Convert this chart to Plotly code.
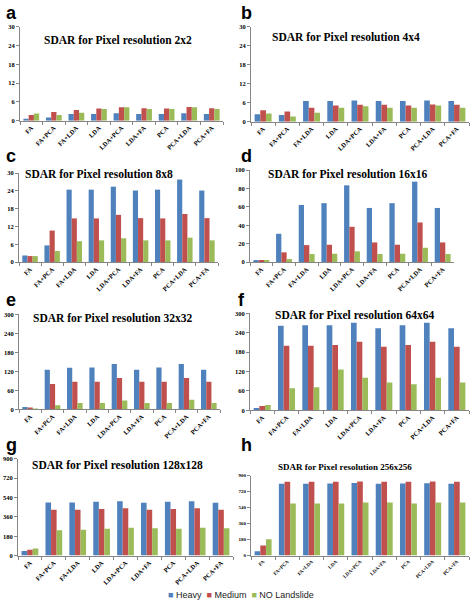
import plotly.graph_objects as go

W, H = 472, 611

categories = ["FA", "FA+PCA", "FA+LDA", "LDA", "LDA+PCA", "LDA+FA", "PCA", "PCA+LDA", "PCA+FA"]
series_names = ["Heavy", "Medium", "NO Landslide"]
colors = ["#4F81BD", "#C0504D", "#9BBB59"]

# panel a: 2x2
a_heavy = [0.5, 1.0, 2.1, 2.1, 2.4, 2.1, 2.1, 2.4, 2.1]
a_medium = [1.8, 2.8, 3.4, 3.9, 4.3, 4.0, 3.9, 4.4, 4.0]
a_noland = [2.3, 1.8, 2.5, 3.7, 4.3, 3.7, 3.7, 4.3, 3.7]
# panel b: 4x4
b_heavy = [2.3, 2.1, 6.5, 6.5, 6.7, 6.5, 6.5, 6.7, 6.5]
b_medium = [3.6, 3.2, 4.4, 5.1, 5.3, 5.3, 5.1, 5.4, 5.3]
b_noland = [2.6, 1.6, 2.8, 4.4, 4.9, 4.4, 4.4, 5.1, 4.4]
# panel c: 8x8
c_heavy = [2.2, 5.6, 24.4, 24.4, 25.4, 24.1, 24.4, 27.8, 24.1]
c_medium = [2.0, 10.6, 14.7, 14.7, 15.9, 14.8, 14.7, 16.2, 14.8]
c_noland = [2.0, 3.7, 7.0, 7.3, 8.0, 7.3, 7.3, 8.2, 7.3]
# panel d: 16x16
d_heavy = [1.4, 30.7, 62, 64, 83.4, 58.8, 64, 87.4, 58.8]
d_medium = [2.2, 10.5, 18.4, 18.8, 38.3, 21.3, 18.8, 43, 21.3]
d_noland = [2.2, 3.2, 8.7, 9.0, 11.6, 8.7, 9.0, 15.5, 8.7]
# panel e: 32x32
e_heavy = [7, 125, 131, 132, 143, 125, 132, 143, 125]
e_medium = [4, 80, 87, 87, 99, 87, 87, 99, 87]
e_noland = [2, 12.5, 20, 20, 28, 20, 20, 30, 20]
# panel f: 64x64
f_heavy = [7, 262, 263, 263, 271, 254, 263, 271, 254]
f_medium = [13, 200, 200, 202, 212, 197, 202, 212, 197]
f_noland = [16, 68, 71, 126, 101, 86, 81, 101, 86]
# panel g: 128x128
g_heavy = [43, 494, 494, 500, 506, 491, 500, 506, 491]
g_medium = [55, 427, 427, 433, 439, 427, 433, 439, 427]
g_noland = [67, 235, 241, 250, 259, 253, 250, 259, 253]
# panel h: 256x256
h_heavy = [48, 808, 808, 810, 815, 808, 810, 812, 808]
h_medium = [115, 830, 830, 830, 833, 830, 830, 833, 830]
h_noland = [185, 585, 585, 585, 596, 596, 585, 596, 596]

titles = ["SDAR for Pixel resolution 2x2", "SDAR for Pixel resolution 4x4",
          "SDAR for Pixel resolution 8x8", "SDAR for Pixel resolution 16x16",
          "SDAR for Pixel resolution 32x32", "SDAR for Pixel resolution 64x64",
          "SDAR for Pixel resolution 128x128", "SDAR for Pixel resolution 256x256"]
letters = ["a", "b", "c", "d", "e", "f", "g", "h"]
ymax = [30, 30, 30, 100, 300, 300, 900, 900]
ydtick = [6, 6, 6, 20, 60, 60, 180, 180]

panels = [
    (a_heavy, a_medium, a_noland), (b_heavy, b_medium, b_noland),
    (c_heavy, c_medium, c_noland), (d_heavy, d_medium, d_noland),
    (e_heavy, e_medium, e_noland), (f_heavy, f_medium, f_noland),
    (g_heavy, g_medium, g_noland), (h_heavy, h_medium, h_noland),
]

# plot-area pixel boxes (x0, x1, ytop, ybottom)
boxes = [
    (20, 223, 23, 118), (251, 469, 23, 119),
    (19, 218, 171, 261), (250, 454, 168, 261),
    (19, 220, 314, 410), (250, 469, 313, 411),
    (18, 233, 460, 558), (251, 469, 477, 558),
]
title_pos = [(118, 36, 11.5), (346, 33, 11.5), (99, 172, 11.5), (348, 172, 11.5),
             (113, 318, 11.5), (355, 315, 11.5), (117, 466, 11.5), (345, 468, 9)]
letter_pos = [(11, 9), (246, 9), (11, 154), (246, 154),
              (11, 299), (242, 299), (11, 446), (246, 446)]

fig = go.Figure()
layout = {}
annotations = []
serif = "Liberation Serif"
for i, (vals, box) in enumerate(zip(panels, boxes)):
    n = i + 1
    xa = "x" if n == 1 else f"x{n}"
    ya = "y" if n == 1 else f"y{n}"
    for s, (name, col, v) in enumerate(zip(series_names, colors, vals)):
        fig.add_trace(go.Bar(x=categories, y=v, name=name, marker_color=col,
                             marker_line_width=0, xaxis=xa, yaxis=ya,
                             showlegend=False))
    x0, x1, yt, yb = box
    small = (i == 7)
    tfs = 5 if small else 6.5
    layout["xaxis" if n == 1 else f"xaxis{n}"] = dict(
        domain=[x0 / W, x1 / W], anchor=ya, type="category",
        showline=True, linecolor="#868686", linewidth=1,
        ticks="outside", tickson="boundaries", ticklen=3, tickcolor="#868686",
        tickangle=-45, tickfont=dict(family=serif, size=tfs, color="black", weight="bold"),
        showgrid=False, zeroline=False, fixedrange=True)
    layout["yaxis" if n == 1 else f"yaxis{n}"] = dict(
        domain=[1 - yb / H, 1 - yt / H], anchor=xa, range=[0, ymax[i]],
        tick0=0, dtick=ydtick[i],
        showline=True, linecolor="#868686", linewidth=1,
        ticks="outside", ticklen=3, tickcolor="#868686",
        tickfont=dict(family=serif, size=tfs, color="black", weight="bold"),
        showgrid=False, zeroline=False, fixedrange=True)
    tx, ty, tsz = title_pos[i]
    annotations.append(dict(text=titles[i], x=tx / W, y=1 - ty / H, xref="paper", yref="paper",
                            xanchor="center", yanchor="middle", showarrow=False,
                            font=dict(family=serif, size=tsz, color="black", weight="bold")))
    lx, ly = letter_pos[i]
    annotations.append(dict(text=letters[i], x=lx / W, y=1 - ly / H, xref="paper", yref="paper",
                            xanchor="center", yanchor="middle", showarrow=False,
                            font=dict(family="Liberation Sans", size=18, color="black", weight="bold")))

# legend drawn as a text line with coloured squares
legend_text = "  ".join(
    f"<span style='color:{c}'>■</span> {nm}" for nm, c in zip(series_names, colors))
annotations.append(dict(text=legend_text, x=166 / W, y=1 - 598 / H, xref="paper", yref="paper",
                        xanchor="left", yanchor="middle", showarrow=False,
                        font=dict(family="Liberation Sans", size=9, color="#222222")))

fig.update_layout(
    width=W, height=H, margin=dict(l=0, r=0, t=0, b=0),
    paper_bgcolor="white", plot_bgcolor="white",
    barmode="group", bargap=0.3, bargroupgap=0.0,
    annotations=annotations, showlegend=False,
    **layout,
)
fig.write_html("out.html", config={"displayModeBar": False},
               post_script="document.body.style.margin='0';document.body.style.overflow='hidden';")
